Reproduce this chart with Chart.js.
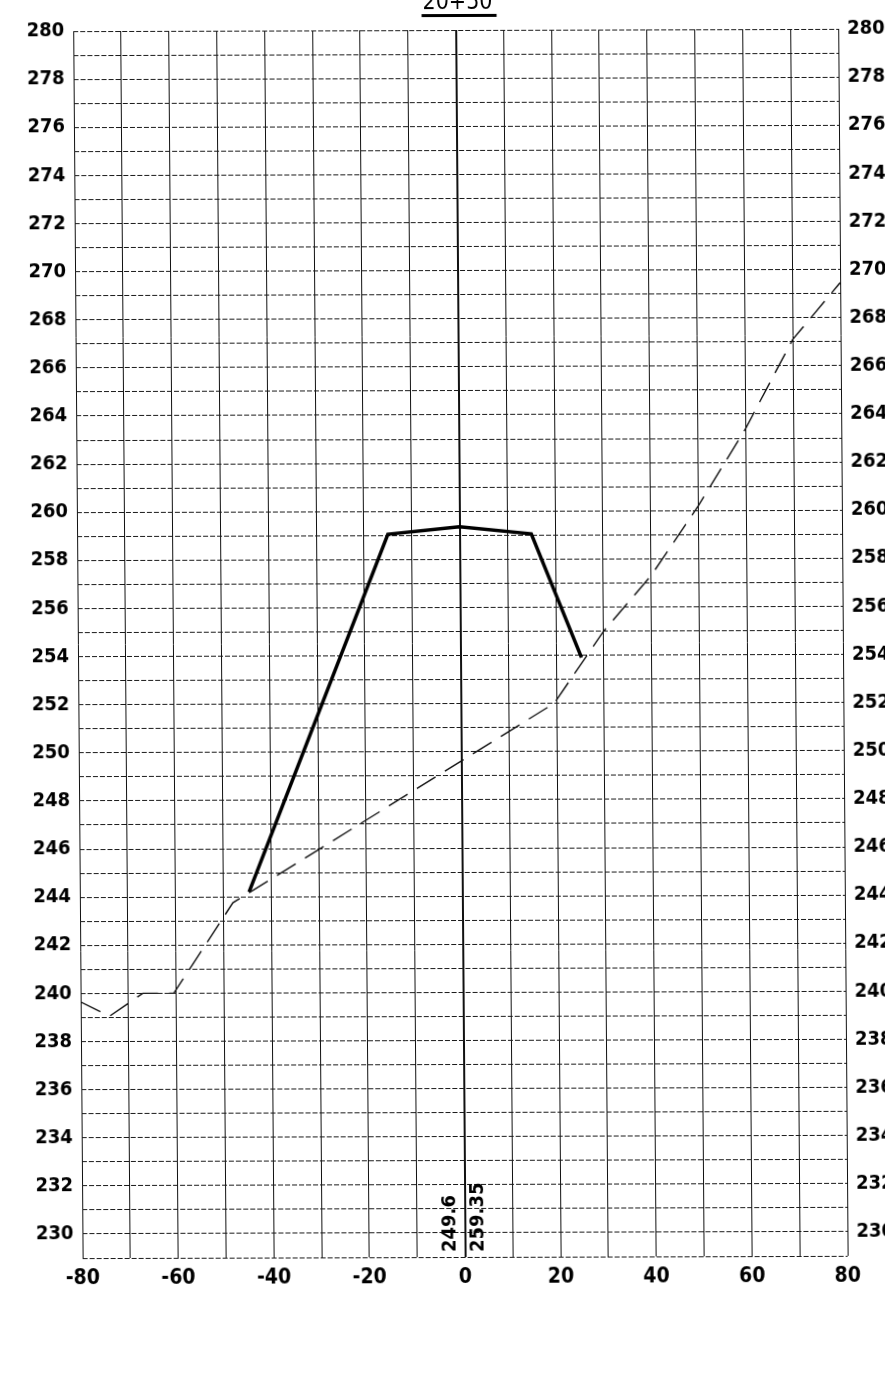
<!DOCTYPE html>
<html>
<head>
<meta charset="utf-8">
<title>20+50</title>
<script src="https://cdn.jsdelivr.net/npm/chart.js@4.4.0/dist/chart.umd.min.js"></script>
<style>
    html, body { margin: 0; padding: 0; background: #fff; overflow: hidden; }
    /* the scanned sheet sits a little crooked, so the chart does too */
    .sheet {
        position: relative;
        width: 923px;
        height: 1310px;
        transform: rotate(-0.17deg) skewX(0.27deg);
    }
</style>
</head>
<body>
<div class="sheet"><canvas id="section"></canvas></div>
<script>
(function () {
    "use strict";

    /* ---------- data ---------- */
    const stationTitle = "20+50";
    const xRange = [-80, 80];          // offset from centreline
    const yRange = [229, 280];         // elevation
    const xLabelEvery = 20;
    const yLabelEvery = 2;

    // existing ground (dashed)
    const groundX = [-80, -74, -67, -60.5, -48, 19.5, 30, 40, 50, 60, 70, 80];
    const groundY = [239.65, 239.05, 240.0, 240.0, 243.75, 252.0, 255.0, 257.3, 260.2, 263.4, 267.1, 269.45];

    // proposed section (solid)
    const roadX = [-44.6, -15, 0, 15, 25.3];
    const roadY = [244.2, 259.05, 259.35, 259.05, 253.9];

    // elevations written at the centreline
    const clLabels = ["249.6", "259.35"];

    /* ---------- helpers ---------- */
    const FONT = '"DejaVu Sans Condensed", "DejaVu Sans", sans-serif';
    const yFont = { family: FONT, size: 20, weight: "bold" };
    const xFont = { family: FONT, size: 21, weight: "bold" };

    function pts(xs, ys) {
        return xs.map((x, i) => ({ x: x, y: ys[i] }));
    }
    function yAxis(position, width) {
        return {
            type: "linear",
            position: position,
            min: yRange[0], max: yRange[1],
            ticks: {
                stepSize: 1, autoSkip: false, padding: 9, color: "#000", font: yFont,
                callback: v => (v % yLabelEvery === 0 ? String(v) : "")
            },
            grid: {
                display: true,
                drawOnChartArea: position === "left",
                drawTicks: false,
                color: "#1a1a1a",
                lineWidth: 1
            },
            border: { display: false, dash: [5, 2] },
            afterFit: s => { s.width = width; }
        };
    }

    /* ---------- title + centreline text ---------- */
    const sheetText = {
        id: "sheetText",
        afterDraw(chart) {
            const { ctx, chartArea, scales } = chart;
            const x0 = scales.x.getPixelForValue(0);
            ctx.save();
            ctx.fillStyle = "#000";

            ctx.font = "23px " + FONT;
            ctx.textAlign = "center";
            ctx.textBaseline = "alphabetic";
            ctx.fillText(stationTitle, x0 + 2, 9);
            const w = ctx.measureText(stationTitle).width;
            ctx.fillRect(x0 + 2 - w / 2 - 1, 14, w + 5, 3);

            ctx.font = "bold 20px " + FONT;
            ctx.textAlign = "left";
            [-10, 18].forEach((dx, i) => {
                ctx.save();
                ctx.translate(x0 + dx, chartArea.bottom - 5);
                ctx.rotate(-Math.PI / 2);
                ctx.fillText(clLabels[i], 0, 0);
                ctx.restore();
            });
            ctx.restore();
        }
    };

    /* ---------- chart ---------- */
    new Chart(document.getElementById("section"), {
        type: "line",
        data: {
            datasets: [
                {
                    label: "Existing ground",
                    data: pts(groundX, groundY),
                    borderColor: "#111",
                    borderWidth: 1.4,
                    borderDash: [22, 11],
                    pointRadius: 0,
                    tension: 0
                },
                {
                    label: "Proposed",
                    data: pts(roadX, roadY),
                    borderColor: "#000",
                    borderWidth: 3.5,
                    pointRadius: 0,
                    tension: 0
                }
            ]
        },
        options: {
            responsive: true,
            maintainAspectRatio: false,
            animation: false,
            layout: { padding: { top: 30, left: 0, right: 0, bottom: 0 } },
            plugins: { legend: { display: false }, tooltip: { enabled: false } },
            scales: {
                x: {
                    type: "linear",
                    min: xRange[0], max: xRange[1],
                    ticks: {
                        stepSize: 10, autoSkip: false, maxRotation: 0, padding: 8,
                        color: "#000", font: xFont,
                        callback: v => (v % xLabelEvery === 0 ? String(v) : "")
                    },
                    grid: {
                        drawTicks: false,
                        color: "#111",
                        lineWidth: c => (c.tick && c.tick.value === 0 ? 2 : 1)
                    },
                    border: { display: false },
                    afterFit: s => { s.height = 53; }
                },
                y: yAxis("left", 78),
                y2: yAxis("right", 80)
            }
        },
        plugins: [sheetText]
    });
})();
</script>
</body>
</html>
